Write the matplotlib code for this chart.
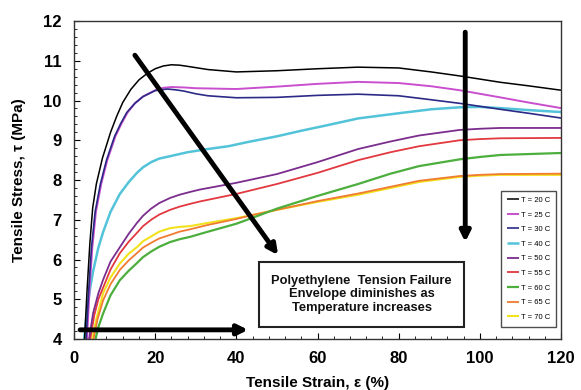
import matplotlib
matplotlib.use("Agg")
import matplotlib.pyplot as plt
from matplotlib.patches import Rectangle
from matplotlib.ticker import MultipleLocator

plt.rcParams['font.family'] = ['Liberation Sans', 'DejaVu Sans']

# ---- data ----
labels = ["T = 20 C", "T = 25 C", "T = 30 C", "T = 40 C", "T = 50 C",
          "T = 55 C", "T = 60 C", "T = 65 C", "T = 70 C"]
colors = ["#000000", "#c94fcf", "#2b2a86", "#52c3d9", "#7b2d8e",
          "#e2383f", "#4cae3c", "#f07b32", "#f2e21c"]

x20 = [2.6, 3.2, 3.9, 4.6, 5.5, 7, 9, 10.5, 12, 14, 16, 18, 20, 22, 24, 26, 28, 33, 40, 50, 60, 70, 80, 88, 95, 105, 112, 120]
y20 = [4.0, 5.2, 6.4, 7.3, 7.9, 8.55, 9.2, 9.6, 9.95, 10.28, 10.52, 10.68, 10.8, 10.87, 10.9, 10.89, 10.86, 10.78, 10.72, 10.75, 10.8, 10.84, 10.82, 10.72, 10.62, 10.46, 10.37, 10.26]

x25 = [3.2, 3.8, 4.5, 5.4, 6.7, 8.2, 10.2, 11.7, 13.2, 15, 17, 20, 22, 24, 27, 30, 40, 50, 60, 70, 80, 88, 95, 105, 112, 120]
y25 = [4.0, 5.2, 6.3, 7.2, 7.9, 8.5, 9.1, 9.42, 9.7, 9.93, 10.1, 10.26, 10.32, 10.34, 10.33, 10.31, 10.29, 10.35, 10.42, 10.47, 10.44, 10.36, 10.26, 10.08, 9.95, 9.81]

x30 = [3.0, 3.6, 4.3, 5.2, 6.5, 8, 10, 11.5, 13, 15, 17, 20, 23, 25, 27, 30, 33, 40, 50, 60, 70, 80, 88, 95, 105, 112, 120]
y30 = [4.0, 5.2, 6.3, 7.2, 7.9, 8.5, 9.1, 9.42, 9.7, 9.93, 10.1, 10.25, 10.29, 10.27, 10.24, 10.17, 10.12, 10.07, 10.08, 10.13, 10.16, 10.12, 10.02, 9.93, 9.78, 9.68, 9.56]

x40 = [2.5, 3.3, 4.0, 4.7, 6, 7.2, 9, 11.3, 13.5, 15.5, 17, 19, 21, 23.7, 28, 33, 38, 43, 50, 56, 62, 70, 80, 88, 95, 100, 105, 112, 120]
y40 = [4.0, 4.8, 5.3, 5.7, 6.3, 6.7, 7.2, 7.65, 7.95, 8.18, 8.32, 8.45, 8.54, 8.6, 8.7, 8.78, 8.85, 8.96, 9.1, 9.24, 9.37, 9.55, 9.68, 9.78, 9.83, 9.84, 9.81, 9.76, 9.71]

x50 = [3.7, 4.7, 6, 7.2, 9, 11.3, 13.5, 15.5, 17, 19, 21, 23.7, 26, 28.6, 31, 40, 50, 60, 70, 78, 85, 95, 100, 105, 120]
y50 = [4.0, 4.65, 5.15, 5.5, 5.95, 6.31, 6.65, 6.92, 7.1, 7.28, 7.42, 7.55, 7.63, 7.7, 7.76, 7.93, 8.15, 8.45, 8.78, 8.97, 9.12, 9.26, 9.29, 9.31, 9.31]

x55 = [4.0, 5, 6, 7.2, 9, 11.3, 13.5, 15.5, 17, 19, 21, 23.7, 26, 28.6, 31, 40, 50, 60, 70, 78, 85, 95, 100, 105, 120]
y55 = [4.0, 4.6, 5.0, 5.3, 5.75, 6.16, 6.45, 6.67, 6.84, 7.0, 7.13, 7.25, 7.33, 7.4, 7.46, 7.65, 7.9, 8.18, 8.5, 8.7, 8.85, 9.0, 9.03, 9.05, 9.06]

x60 = [5.3, 6, 7.2, 9, 11.3, 13.5, 15.5, 17, 19, 21, 23.7, 26, 28.6, 33, 40, 44, 50, 60, 70, 78, 85, 95, 100, 105, 120]
y60 = [4.0, 4.3, 4.65, 5.1, 5.48, 5.72, 5.91, 6.06, 6.2, 6.32, 6.44, 6.51, 6.57, 6.7, 6.9, 7.05, 7.28, 7.6, 7.9, 8.16, 8.35, 8.52, 8.58, 8.63, 8.68]

x65 = [4.8, 5.8, 7.2, 9, 11.3, 13.5, 15.5, 17, 19, 21, 23.7, 26, 28.6, 33, 40, 44, 50, 60, 70, 78, 85, 95, 100, 105, 120]
y65 = [4.0, 4.5, 4.98, 5.38, 5.74, 5.98, 6.16, 6.3, 6.42, 6.53, 6.62, 6.7, 6.76, 6.87, 7.02, 7.12, 7.25, 7.47, 7.66, 7.83, 7.98, 8.1, 8.13, 8.15, 8.16]

x70 = [4.5, 5.5, 7.2, 9, 11.3, 13.5, 15.5, 17, 19, 21, 23.7, 26, 28.6, 33, 40, 44, 50, 60, 70, 78, 85, 95, 100, 105, 120]
y70 = [4.0, 4.5, 5.16, 5.55, 5.9, 6.15, 6.31, 6.46, 6.58, 6.7, 6.79, 6.82, 6.84, 6.92, 7.04, 7.12, 7.25, 7.45, 7.63, 7.8, 7.95, 8.08, 8.11, 8.13, 8.13]

series_x = [x20, x25, x30, x40, x50, x55, x60, x65, x70]
series_y = [y20, y25, y30, y40, y50, y55, y60, y65, y70]
widths = [1.1, 1.4, 1.2, 1.8, 1.3, 1.3, 1.6, 1.3, 1.5]

note = "Polyethylene  Tension Failure\nEnvelope diminishes as\nTemperature increases"

# ---- figure ----
fig = plt.figure(figsize=(5.81, 3.90), dpi=100)
ax = fig.add_axes([0.1274, 0.1308, 0.8382, 0.8152])

# draw higher-temperature curves first so low-T curves lie on top
order = [8, 7, 6, 5, 4, 3, 1, 2, 0]
handles = {}
for i in order:
    h, = ax.plot(series_x[i], series_y[i], color=colors[i], lw=widths[i],
                 label=labels[i], solid_capstyle='butt', solid_joinstyle='round',
                 zorder=2)
    handles[i] = h

ax.set_xlim(0, 120)
ax.set_ylim(4, 12)
ax.xaxis.set_major_locator(MultipleLocator(20))
ax.xaxis.set_minor_locator(MultipleLocator(4))
ax.yaxis.set_major_locator(MultipleLocator(1))
ax.yaxis.set_minor_locator(MultipleLocator(0.2))
ax.tick_params(which='both', direction='in', top=False, right=False)
ax.tick_params(which='major', length=4, width=0.8, pad=9, labelsize=12)
ax.tick_params(which='minor', length=2.5, width=0.6)
for lab in ax.get_xticklabels() + ax.get_yticklabels():
    lab.set_fontweight('bold')
for s in ax.spines.values():
    s.set_linewidth(1.0)
    s.set_color('#333333')

ax.set_xlabel("Tensile Strain, ε (%)", fontsize=11, fontweight='bold', labelpad=7)
ax.set_ylabel("Tensile Stress, τ (MPa)", fontsize=11, fontweight='bold', labelpad=12)

# arrows
arrow_kw = dict(arrowstyle='-|>', lw=3.5, color='black', mutation_scale=15,
                shrinkA=0, shrinkB=0)
ax.annotate("", xy=(50.3, 6.11), xytext=(15.0, 11.14), arrowprops=arrow_kw, zorder=5)
ax.annotate("", xy=(96.4, 6.44), xytext=(96.4, 11.72), arrowprops=arrow_kw, zorder=5)
ax.annotate("", xy=(42.9, 4.23), xytext=(1.5, 4.23), arrowprops=arrow_kw, zorder=5)

# text box
ax.add_patch(Rectangle((45.6, 4.30), 50.5, 1.64, facecolor='white',
                       edgecolor='#222222', lw=1.5, zorder=6))
ax.text(70.85, 5.12, note, ha='center', va='center', fontsize=9.3,
        fontweight='bold', linespacing=1.2, zorder=7, color='#111111')

# legend
leg = ax.legend([handles[i] for i in range(9)], labels, loc='lower right',
                bbox_to_anchor=(0.99, 0.038), fontsize=5.5, frameon=True,
                fancybox=False, edgecolor='#222222', handlelength=1.6,
                handletextpad=0.2, labelspacing=0.95, borderpad=0.8,
                borderaxespad=0)
leg.get_frame().set_linewidth(1.0)
leg.set_zorder(8)

fig.savefig("out.png", dpi=100, facecolor='white')
